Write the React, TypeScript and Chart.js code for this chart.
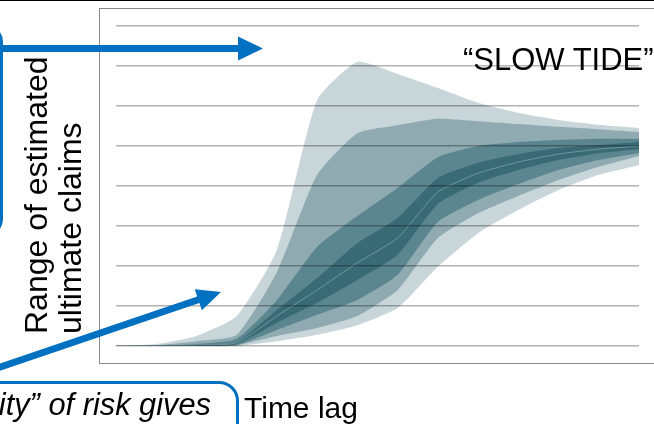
import React, { useEffect, useRef } from "react";
import { Chart, registerables } from "chart.js";

Chart.register(...registerables);

// Development lags (categories)
const lags = [0, 1, 2, 3, 4, 5, 6, 7, 8, 9, 10, 11, 12, 13];

// Fan bands of estimated ultimate claims (outer -> inner)
const band1Upper = [0, 0.05, 0.25, 0.75, 2.4, 6.15, 7.1, 6.8, 6.45, 6.08, 5.83, 5.65, 5.53, 5.45];
const band1Lower = [0, 0, 0, 0, 0.12, 0.28, 0.52, 0.95, 1.98, 2.82, 3.4, 3.9, 4.28, 4.52];
const band2Upper = [0, 0.02, 0.12, 0.28, 1.85, 4.28, 5.32, 5.52, 5.68, 5.62, 5.55, 5.48, 5.42, 5.35];
const band2Lower = [0, 0, 0, 0.02, 0.25, 0.45, 0.75, 1.4, 2.7, 3.32, 3.75, 4.15, 4.48, 4.75];
const band3Upper = [0, 0, 0.05, 0.18, 1.15, 2.48, 3.25, 3.95, 4.72, 5.0, 5.1, 5.15, 5.18, 5.18];
const band3Lower = [0, 0, 0, 0.02, 0.4, 0.78, 1.15, 1.78, 3.1, 3.65, 4.05, 4.4, 4.65, 4.82];
const band4Upper = [0, 0, 0.02, 0.1, 0.9, 1.7, 2.57, 3.2, 4.2, 4.58, 4.8, 4.95, 5.02, 5.1];
const band4Lower = [0, 0, 0, 0.05, 0.58, 1.08, 1.65, 2.28, 3.55, 4.08, 4.4, 4.65, 4.82, 4.92];
const median = [0, 0, 0.02, 0.08, 0.75, 1.4, 2.08, 2.7, 3.85, 4.32, 4.6, 4.8, 4.92, 5.0];

const yMin = 0;
const yMax = 8;

const BLUE = "#0070c0";
const FONT = '"Liberation Sans", Arial, Helvetica, sans-serif';

const pts = (vals: number[]) => vals.map((v, i) => ({ x: lags[i], y: v }));

function drawArrow(
  ctx: CanvasRenderingContext2D,
  x0: number, y0: number, x1: number, y1: number,
  w: number, headLen: number, headHalf: number
) {
  const dx = x1 - x0, dy = y1 - y0;
  const L = Math.hypot(dx, dy);
  const ux = dx / L, uy = dy / L;
  const nx = -uy, ny = ux;
  const bx = x1 - ux * headLen, by = y1 - uy * headLen;
  ctx.beginPath();
  ctx.moveTo(x0 + nx * w / 2, y0 + ny * w / 2);
  ctx.lineTo(bx + nx * w / 2, by + ny * w / 2);
  ctx.lineTo(bx + nx * headHalf, by + ny * headHalf);
  ctx.lineTo(x1, y1);
  ctx.lineTo(bx - nx * headHalf, by - ny * headHalf);
  ctx.lineTo(bx - nx * w / 2, by - ny * w / 2);
  ctx.lineTo(x0 - nx * w / 2, y0 - ny * w / 2);
  ctx.closePath();
  ctx.fill();
}

export default function App() {
  const ref = useRef<HTMLCanvasElement>(null);

  useEffect(() => {
    if (!ref.current) return;
    const arrows = {
      id: "arrows",
      afterDraw(chart: any) {
        const ctx = chart.ctx as CanvasRenderingContext2D;
        ctx.save();
        ctx.fillStyle = BLUE;
        drawArrow(ctx, -5, 48.5, 263, 48.5, 7, 25, 12);
        drawArrow(ctx, -10, 370.5, 221, 292, 7, 24, 11);
        ctx.restore();
      },
    };

    const bandColors = ["#c8d5d9", "#8fabb1", "#5b8690", "#3a6a76"];
    const uppers = [band1Upper, band2Upper, band3Upper, band4Upper];
    const lowers = [band1Lower, band2Lower, band3Lower, band4Lower];
    const datasets: any[] = [];
    uppers.forEach((u, k) => {
      const ord = 10 - k * 2;
      datasets.push({
        data: pts(u),
        borderWidth: 0,
        pointRadius: 0,
        fill: false,
        order: ord,
      });
      datasets.push({
        data: pts(lowers[k]),
        borderWidth: 0,
        pointRadius: 0,
        fill: "-1",
        backgroundColor: bandColors[k],
        order: ord,
      });
    });
    datasets.push({
      data: pts(median),
      borderColor: "#6f97a1",
      borderWidth: 1,
      pointRadius: 0,
      fill: false,
      order: 0,
    });

    const chart = new Chart(ref.current, {
      type: "line",
      data: { datasets },
      options: {
        animation: false,
        responsive: false,
        maintainAspectRatio: false,
        layout: { padding: { left: 116, right: 15, top: 26, bottom: 78 } },
        elements: { line: { tension: 0.18 } },
        plugins: {
          legend: { display: false },
          tooltip: { enabled: false },
        },
        scales: {
          x: {
            type: "linear",
            display: false,
            min: lags[0],
            max: lags[lags.length - 1],
          },
          y: {
            min: yMin,
            max: yMax,
            ticks: { display: false, stepSize: 1 },
            border: { display: false },
            grid: {
              z: 1,
              color: "rgba(0,0,0,0.3)",
              lineWidth: 1.5,
              drawTicks: false,
            },
          },
        },
      },
      plugins: [arrows],
    } as any);
    return () => chart.destroy();
  }, []);

  const txt = (fs: number): React.CSSProperties => ({
    position: "absolute",
    fontSize: fs,
    lineHeight: "34px",
    whiteSpace: "nowrap",
    color: "#000",
    fontFamily: FONT,
  });

  return (
    <div
      style={{
        position: "absolute",
        left: 0,
        top: 0,
        width: 654,
        height: 424,
        overflow: "hidden",
        background: "#fff",
        fontFamily: FONT,
      }}
    >
      {/* top slide edge */}
      <div style={{ position: "absolute", left: 0, top: 0, width: 654, height: 1, background: "#000" }} />
      {/* chart frame */}
      <div
        style={{
          position: "absolute",
          left: 99,
          top: 8,
          width: 700,
          height: 356,
          border: "1px solid #8a8a8a",
          boxSizing: "border-box",
        }}
      />
      {/* left blue callout box edge */}
      <div
        style={{
          position: "absolute",
          left: -200,
          top: 24,
          width: 203,
          height: 213,
          border: `3px solid ${BLUE}`,
          borderRadius: 18,
          boxSizing: "border-box",
        }}
      />
      {/* bottom blue callout box */}
      <div
        style={{
          position: "absolute",
          left: -100,
          top: 381,
          width: 339,
          height: 100,
          border: `3.5px solid ${BLUE}`,
          borderRadius: 20,
          boxSizing: "border-box",
        }}
      />
      <canvas ref={ref} width={654} height={424} style={{ position: "absolute", left: 0, top: 0 }} />
      <div style={{ ...txt(31), left: 463, top: 42, lineHeight: "36px" }}>{"\u201CSLOW TIDE\u201D"}</div>
      <div style={{ ...txt(30), left: 244, top: 390.6 }}>Time lag</div>
      <div style={{ ...txt(30.8), right: 443, top: 388, fontStyle: "italic" }}>{"ity\u201D of risk gives"}</div>
      <div
        style={{
          ...txt(32),
          left: 19,
          top: 334,
          transform: "rotate(-90deg)",
          transformOrigin: "left top",
        }}
      >
        Range of estimated
        <br />
        ultimate claims
      </div>
    </div>
  );
}
